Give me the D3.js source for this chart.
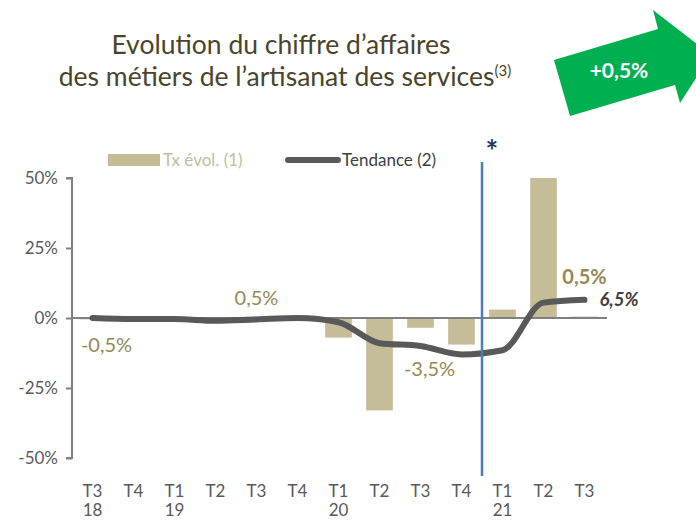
<!DOCTYPE html>
<html>
<head>
<meta charset="utf-8">
<style>
  body { margin: 0; background: #fff; }
  svg { display: block; font-family: Lato, "Open Sans", sans-serif; }
</style>
</head>
<body>
<div id="chart"></div>
<script src="https://d3js.org/d3.v7.min.js"></script>
<script>
const quarters = ["T3", "T4", "T1", "T2", "T3", "T4", "T1", "T2", "T3", "T4", "T1", "T2", "T3"];
const years = ["18", "", "19", "", "", "", "20", "", "", "", "21", "", ""];
const txEvol = [-0.5, 0.2, -0.3, 0.3, 0.5, 0.2, -7, -33, -3.5, -9.5, 3, 50, 0.5];
const tendance = [0, -0.4, -0.4, -1, -0.5, 0, -1.5, -9, -10, -13, -11.5, 5.5, 6.5];
const yTicks = [-50, -25, 0, 25, 50];
const barLabels = [
  { i: 0, text: "-0,5%", dx: 14, y: -10.5, bold: false },
  { i: 4, text: "0,5%", dx: 0, y: 6.5, bold: false },
  { i: 8, text: "-3,5%", dx: 9, y: -19, bold: false },
  { i: 12, text: "0,5%", dx: 0, y: 14, bold: true }
];

const W = 696, H = 521;
const svg = d3.select("#chart").append("svg").attr("width", W).attr("height", H);

const keys = quarters.map((q, i) => i);
const x = d3.scaleBand().domain(keys).range([72, 605]).paddingInner(0.35).paddingOuter(0.175);
const y = d3.scaleLinear().domain([-50, 50]).range([458, 178]);
const cx = i => x(i) + x.bandwidth() / 2;

// title
const title = svg.append("g").attr("fill", "#4A452A").style("font-size", "26.5px");
title.append("text").attr("x", 281).attr("y", 54).attr("text-anchor", "middle").text("Evolution du chiffre d\u2019affaires");
const t2 = title.append("text").attr("x", 285).attr("y", 86).attr("text-anchor", "middle");
t2.append("tspan").text("des métiers de l\u2019artisanat des services");
t2.append("tspan").attr("dy", -10).style("font-size", "15px").text("(3)");

// green arrow
svg.append("path")
  .attr("d", "M554,60 L658,29 L653,10 L711,55 L680,103 L675,85 L570,116 Z")
  .attr("fill", "#00B050");
svg.append("text").attr("x", 619).attr("y", 78).attr("text-anchor", "middle")
  .attr("fill", "#fff").style("font-size", "21px").style("font-weight", "bold").text("+0,5%");

// y axis
const yAxis = svg.append("g").attr("transform", "translate(72,0)")
  .call(d3.axisLeft(y).tickValues(yTicks).tickSize(6).tickPadding(8).tickFormat(d => d + "%"));
yAxis.select(".domain").attr("stroke", "#808080").attr("stroke-width", 2).attr("d", "M-6,178H0V458H-6");
yAxis.selectAll(".tick line").attr("stroke", "#808080").attr("stroke-width", 2);
yAxis.selectAll(".tick text").attr("fill", "#595959").style("font-size", "17px").style("font-family", "Lato, sans-serif");

// bars
svg.append("g").selectAll("rect").data(txEvol).join("rect")
  .attr("x", (d, i) => x(i))
  .attr("width", x.bandwidth())
  .attr("y", d => y(Math.max(0, d)))
  .attr("height", d => Math.abs(y(d) - y(0)))
  .attr("fill", "#C4BD97");

// zero line
svg.append("line").attr("x1", 72).attr("x2", 607).attr("y1", y(0)).attr("y2", y(0))
  .attr("stroke", "#808080").attr("stroke-width", 2);

// tendance line
const line = d3.line().x((d, i) => cx(i)).y(d => y(d)).curve(d3.curveMonotoneX);
svg.append("path").datum(tendance).attr("d", line)
  .attr("fill", "none").attr("stroke", "#595959").attr("stroke-width", 6)
  .attr("stroke-linecap", "round").attr("stroke-linejoin", "round");

// vertical marker
const xv = x(10) - x.step() * x.paddingInner() / 2;
svg.append("line").attr("x1", xv).attr("x2", xv).attr("y1", 162).attr("y2", 476)
  .attr("stroke", "#4A7EBB").attr("stroke-width", 2.5);
svg.append("text").attr("x", xv + 10).attr("y", 162).attr("text-anchor", "middle")
  .attr("fill", "#1F3864").style("font-size", "30px").style("font-weight", "bold").text("*");

// bar labels
svg.append("g").selectAll("text").data(barLabels).join("text")
  .attr("x", d => cx(d.i) + d.dx)
  .attr("y", d => y(d.y))
  .attr("text-anchor", "middle")
  .attr("dominant-baseline", "middle")
  .attr("fill", "#948A54")
  .style("font-size", "20px")
  .style("font-weight", d => d.bold ? "bold" : "normal")
  .text(d => d.text);

// end label of tendance
svg.append("text").attr("x", cx(12) + 15).attr("y", y(tendance[12]) + 1)
  .attr("dominant-baseline", "middle").attr("fill", "#404040")
  .style("font-size", "18.5px").style("font-weight", "bold").style("font-style", "italic")
  .text("6,5%");

// x labels
const xl = svg.append("g").attr("fill", "#595959").style("font-size", "17px").attr("text-anchor", "middle");
xl.selectAll(".q").data(quarters).join("text").attr("class", "q")
  .attr("x", (d, i) => cx(i)).attr("y", 497).text(d => d);
xl.selectAll(".yr").data(years).join("text").attr("class", "yr")
  .attr("x", (d, i) => cx(i)).attr("y", 516).text(d => d);

// legend
const lg = svg.append("g").style("font-size", "17px");
lg.append("rect").attr("x", 108).attr("y", 154).attr("width", 52).attr("height", 12).attr("fill", "#C4BD97");
lg.append("text").attr("x", 163).attr("y", 166).attr("fill", "#C4BD97").text("Tx évol. (1)");
lg.append("line").attr("x1", 288).attr("x2", 338).attr("y1", 160).attr("y2", 160)
  .attr("stroke", "#595959").attr("stroke-width", 6).attr("stroke-linecap", "round");
lg.append("text").attr("x", 342).attr("y", 166).attr("fill", "#404040").text("Tendance (2)");
</script>
</body>
</html>
